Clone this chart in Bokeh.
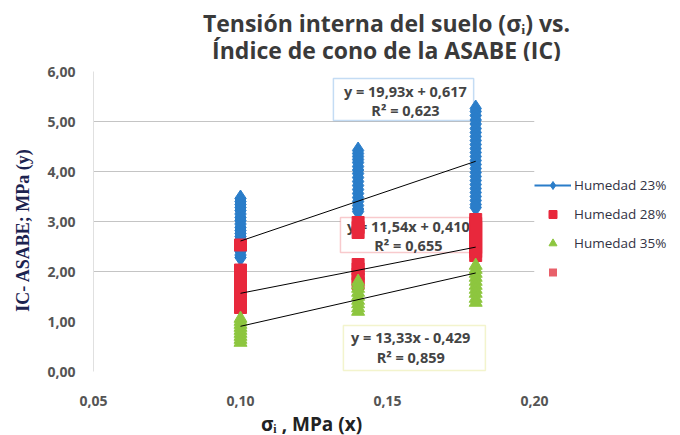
from bokeh.plotting import figure
from bokeh.layouts import column
from bokeh.models import (Label, Legend, LegendItem, FixedTicker, CustomJSTickFormatter,
                          Range1d, BoxAnnotation)
from bokeh.embed import file_html
from bokeh.resources import INLINE

# ---------------- data ----------------
x_levels = [0.10, 0.14, 0.18]

h23_c1 = [3.46, 3.40, 3.34, 3.28, 3.22, 3.15, 3.08, 3.02, 2.95, 2.88, 2.82, 2.76, 2.70,
          2.64, 2.56, 2.48, 2.40, 2.33, 2.28]
h23_c2 = [4.42, 4.36, 4.30, 4.24, 4.18, 4.10, 4.03, 3.96, 3.88, 3.80, 3.72, 3.64, 3.56,
          3.48, 3.40, 3.32, 3.25, 3.20]
h23_c3 = [5.26, 5.20, 5.12, 5.03, 4.95, 4.86, 4.78, 4.70, 4.62, 4.54, 4.46, 4.38, 4.30,
          4.22, 4.14, 4.06, 3.98, 3.90, 3.82, 3.74, 3.66, 3.58, 3.50, 3.42, 3.34, 3.28]

h28_c1 = [2.53, 2.03, 1.95, 1.88, 1.80, 1.72, 1.65, 1.58, 1.50, 1.43, 1.36, 1.28]
h28_c2 = [2.98, 2.88, 2.78, 2.14, 2.05, 1.95, 1.85, 1.76]
h28_c3 = [3.04, 2.96, 2.88, 2.80, 2.72, 2.64, 2.56, 2.48, 2.40, 2.32]

h35_c1 = [1.06, 1.00, 0.94, 0.88, 0.82, 0.76, 0.70, 0.64, 0.58]
h35_c2 = [1.80, 1.73, 1.66, 1.58, 1.50, 1.42, 1.35, 1.27, 1.20]
h35_c3 = [2.12, 2.04, 1.96, 1.88, 1.80, 1.72, 1.64, 1.56, 1.46, 1.38]

series_names = ["Humedad 23%", "Humedad 28%", "Humedad 35%"]
slopes = [19.93, 11.54, 13.33]
intercepts = [0.617, 0.410, -0.429]
eq_lines = ["y = 19,93x + 0,617", "y = 11,54x + 0,410", "y = 13,33x - 0,429"]
r2_lines = ["R\u00b2 = 0,623", "R\u00b2 = 0,655", "R\u00b2 = 0,859"]

y_ticks = [0, 1, 2, 3, 4, 5, 6]
y_grid = [2, 3, 4, 5]
x_ticks = [0.05, 0.10, 0.15, 0.20]

title_lines = ["Tensi\u00f3n interna del suelo (\u03c3\u1d62) vs.",
               "\u00cdndice de cono de la ASABE (IC)"]
x_title = "\u03c3\u1d62 , MPa  (x)"
y_title = "IC- ASABE; MPa (y)"

# ---------------- styling / layout ----------------
BLUE = "#2a7dc9"
RED = "#e8283c"
GREEN = "#8dc63f"
TXT = "#3a3a3a"
FONT = "Open Sans"
NAN = float("nan")
W = 672
TITLE_H = 61

# equation box frames: (left, right, bottom, top), text centre x, two text rows y
box_frames = [(0.1316, 0.1793, 5.02, 5.86), (0.1340, 0.1806, 2.38, 3.08),
              (0.1350, 0.1833, 0.02, 0.92)]
box_text_x = [0.1561, 0.1571, 0.1579]
box_text_y = [(5.60, 5.22), (2.90, 2.52), (0.68, 0.28)]
box_cols = ["#3b8ad9", "#e8505a", "#d6dc5a"]


def col(vals_by_col):
    xs, ys = [], []
    for xv, vals in zip(x_levels, vals_by_col):
        xs += [xv] * len(vals)
        ys += vals
    return xs, ys


# ---- title strip (pixel coordinates, no axes) ----
tfig = figure(frame_width=W, frame_height=TITLE_H, min_border=0,
              x_axis_location=None, y_axis_location=None,
              x_range=Range1d(0, W), y_range=Range1d(0, TITLE_H),
              output_backend="svg", toolbar_location=None, tools="")
tfig.grid.visible = False
tfig.outline_line_color = None
tfig.border_fill_color = "white"
tfig.background_fill_color = "white"
for txt, ty in zip(title_lines, [39, 12]):
    tfig.add_layout(Label(x=293, y=ty, text=txt, text_align="center",
                          text_baseline="middle", text_font=FONT, text_font_size="23px",
                          text_font_style="bold", text_color=TXT))

# ---- main chart ----
p = figure(frame_width=441, frame_height=317,
           min_border_left=93, min_border_right=W - 93 - 441, min_border_top=10,
           min_border_bottom=45,
           x_range=Range1d(0.05, 0.20), y_range=Range1d(-0.34, 6.0),
           output_backend="svg", toolbar_location=None, tools="")
p.outline_line_color = None
p.background_fill_color = "white"
p.border_fill_color = "white"

p.xaxis.ticker = FixedTicker(ticks=x_ticks)
p.yaxis.ticker = FixedTicker(ticks=y_ticks)
p.yaxis.bounds = (0, 6)
fmt = CustomJSTickFormatter(code="return tick.toFixed(2).replace('.', ',');")
p.xaxis.formatter = fmt
p.yaxis.formatter = fmt
for ax in (p.xaxis[0], p.yaxis[0]):
    ax.major_tick_line_color = None
    ax.minor_tick_line_color = None
    ax.axis_line_color = "#e0e0e0"
    ax.major_label_text_font = FONT
    ax.major_label_text_font_size = "14px"
    ax.major_label_text_color = "#555555"
    ax.major_label_text_font_style = "bold"
p.xaxis.axis_line_color = None
p.xaxis.major_label_standoff = 1
p.yaxis.major_label_standoff = 12
p.xaxis.axis_label = x_title
p.xaxis.axis_label_text_font = FONT
p.xaxis.axis_label_text_font_size = "19px"
p.xaxis.axis_label_text_font_style = "bold"
p.xaxis.axis_label_text_color = "#222222"
p.xaxis.axis_label_standoff = 2
p.yaxis.axis_label = y_title
p.yaxis.axis_label_text_font = "Liberation Serif"
p.yaxis.axis_label_text_font_size = "18px"
p.yaxis.axis_label_text_font_style = "bold"
p.yaxis.axis_label_text_color = "#1c2350"
p.yaxis.axis_label_standoff = 11

p.xgrid.grid_line_color = None
p.ygrid.ticker = FixedTicker(ticks=y_grid)
p.ygrid.grid_line_color = "#c4c4c4"
p.ygrid.grid_line_width = 1

# equation boxes (behind the markers)
for (l, r, b, t), tx, (ya, yb), bc, e1, e2 in zip(box_frames, box_text_x, box_text_y,
                                                  box_cols, eq_lines, r2_lines):
    p.add_layout(BoxAnnotation(left=l, right=r, bottom=b, top=t, fill_color="white",
                               fill_alpha=1, line_color=bc, line_width=1.5,
                               level="underlay"))
    for txt, ty in ((e1, ya), (e2, yb)):
        p.add_layout(Label(x=tx, y=ty, text=txt, text_align="center",
                           text_baseline="middle", text_font=FONT,
                           text_font_size="14.5px", text_font_style="bold",
                           text_color="#444444", level="underlay"))

# markers
x1, y1 = col([h23_c1, h23_c2, h23_c3])
x2, y2 = col([h28_c1, h28_c2, h28_c3])
x3, y3 = col([h35_c1, h35_c2, h35_c3])
r1 = p.scatter(x1, y1, marker="diamond", size=17, fill_color=BLUE, line_color=BLUE)
r2 = p.scatter(x2, y2, marker="square", size=12, fill_color=RED, line_color=RED)
r3 = p.scatter(x3, y3, marker="triangle", size=13, fill_color=GREEN, line_color=GREEN)
r1_line = p.line([NAN, NAN], [NAN, NAN], line_color=BLUE, line_width=2)
r_small = p.scatter([NAN], [NAN], marker="square", size=4, fill_color="#e8606a",
                    line_color=None)

# trend lines
for xs_series, a, b in zip([x1, x2, x3], slopes, intercepts):
    xa, xb = min(xs_series), max(xs_series)
    p.line([xa, xb], [a * xa + b, a * xb + b], line_color="black", line_width=1)

# legend (right panel)
leg = Legend(items=[LegendItem(label=series_names[0], renderers=[r1_line, r1]),
                    LegendItem(label=series_names[1], renderers=[r2]),
                    LegendItem(label=series_names[2], renderers=[r3]),
                    LegendItem(label=" ", renderers=[r_small])],
             location=(0, 106), orientation="vertical",
             border_line_color=None, background_fill_alpha=0, padding=0, margin=0,
             glyph_width=37, glyph_height=20, label_height=20, spacing=9,
             label_standoff=3, label_text_font=FONT, label_text_font_size="13.5px",
             label_text_color="#333344")
p.add_layout(leg, "right")

layout = column(tfig, p, spacing=0)
open("out.html", "w").write(file_html(layout, INLINE))
